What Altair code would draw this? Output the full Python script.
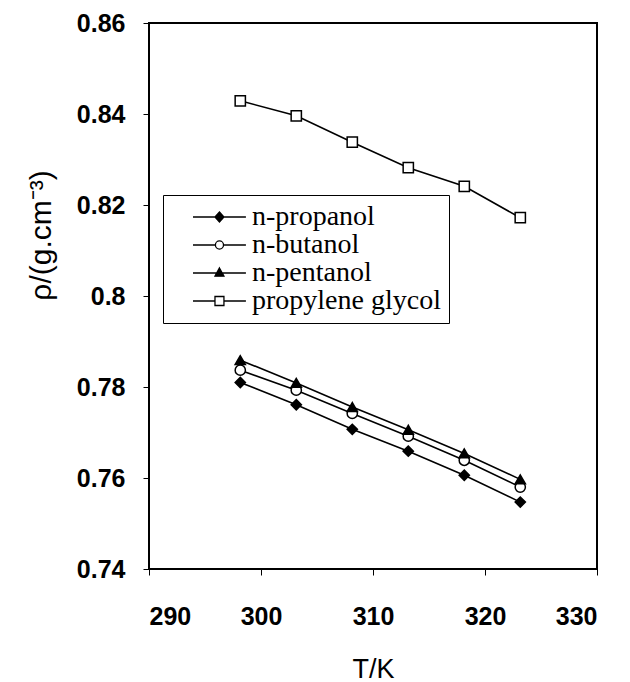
import altair as alt
import pandas as pd

temps = [298.15, 303.15, 308.15, 313.15, 318.15, 323.15]
series_names = ["n-propanol", "n-butanol", "n-pentanol", "propylene glycol"]
propanol = [0.7810, 0.7761, 0.7707, 0.7659, 0.7606, 0.7547]
butanol = [0.7837, 0.7793, 0.7742, 0.7692, 0.7639, 0.7580]
pentanol = [0.7859, 0.7809, 0.7756, 0.7706, 0.7654, 0.7597]
glycol = [0.8429, 0.8396, 0.8338, 0.8282, 0.8241, 0.8172]

x_ticks = [290, 300, 310, 320, 330]
y_ticks = [0.74, 0.76, 0.78, 0.80, 0.82, 0.84, 0.86]

rows = []
for name, vals in zip(series_names, [propanol, butanol, pentanol, glycol]):
    for t, v in zip(temps, vals):
        rows.append({"T": t, "rho": v, "series": name})
df = pd.DataFrame(rows)

marker_shapes = ["diamond", "circle", "triangle-up", "square"]
marker_fills = ["black", "white", "black", "white"]
legend_paths = [
    "M-1,0L2.78,0M0.89,-0.36L1.21,0L0.89,0.36L0.57,0Z",
    "M-1,0L0.6,0M1.18,0L2.78,0M0.6,0A0.29,0.29,0,1,1,1.18,0A0.29,0.29,0,1,1,0.6,0Z",
    "M-1,0L2.78,0M0.89,-0.36L1.21,0.23L0.57,0.23Z",
    "M-1,0L0.57,0M1.21,0L2.78,0M0.57,-0.32L1.21,-0.32L1.21,0.32L0.57,0.32Z",
]

x_enc = alt.X(
    "T:Q",
    scale=alt.Scale(domain=[290, 330], nice=False, zero=False),
    axis=alt.Axis(
        values=x_ticks, format="d", title="T/K", grid=False, domain=False,
        tickColor="black", tickSize=6, tickWidth=1,
        labelFont="Liberation Sans", labelFontWeight="bold", labelFontSize=25,
        labelColor="black", labelPadding=29,
        titleFont="Liberation Sans", titleFontWeight="normal", titleFontSize=27,
        titleColor="black", titleBaseline="alphabetic", titleY=108,
    ),
)
y_enc = alt.Y(
    "rho:Q",
    scale=alt.Scale(domain=[0.74, 0.86], nice=False, zero=False),
    axis=alt.Axis(
        values=y_ticks, format=".2~f", title="ρ/(g.cm⁻³)", grid=False, domain=False,
        tickColor="black", tickSize=6, tickWidth=1,
        labelFont="Liberation Sans", labelFontWeight="bold", labelFontSize=25,
        labelColor="black", labelPadding=18,
        titleFont="Liberation Sans", titleFontWeight="normal", titleFontSize=30,
        titleColor="black", titleAngle=270, titleAlign="center",
        titleBaseline="alphabetic", titleX=-99, titleY=212,
    ),
)

base = alt.Chart(df)

lines = base.mark_line(color="black", strokeWidth=1.6).encode(
    x=x_enc, y=y_enc, detail="series:N"
)

point_layers = []
for name, shp, fll in zip(series_names, marker_shapes, marker_fills):
    point_layers.append(
        base.transform_filter(alt.datum.series == name)
        .mark_point(shape=shp, fill=fll, filled=True, stroke="black",
                    strokeWidth=1.5, size=105, opacity=1)
        .encode(x=x_enc, y=y_enc)
    )

leg = alt.Legend(
    title=None, orient="none", legendX=14, legendY=172,
    strokeColor="black", fillColor="white", padding=8,
    symbolSize=784, symbolOffset=21, symbolStrokeWidth=1.3, clipHeight=28,
    labelFont="Liberation Serif", labelFontSize=28, labelColor="black",
    labelOffset=30, labelLimit=400, rowPadding=0,
)

legend_layer = base.transform_filter("false").mark_point(
    filled=True, strokeWidth=1.3, opacity=1
).encode(
    x=x_enc, y=y_enc,
    shape=alt.Shape("series:N", scale=alt.Scale(domain=series_names, range=legend_paths), legend=leg),
    fill=alt.Fill("series:N", scale=alt.Scale(domain=series_names, range=marker_fills), legend=leg),
    stroke=alt.Stroke("series:N", scale=alt.Scale(domain=series_names, range=["black"] * 4), legend=leg),
)

chart = (
    alt.layer(lines, *point_layers, legend_layer)
    .properties(
        width=448, height=546,
        autosize=alt.AutoSizeParams(type="none"),
        padding={"left": 149, "top": 23, "right": 33, "bottom": 113},
        background="white",
    )
    .configure_view(stroke="black", strokeWidth=2)
)

chart.save("out.html", embed_options={"renderer": "svg", "actions": False})
